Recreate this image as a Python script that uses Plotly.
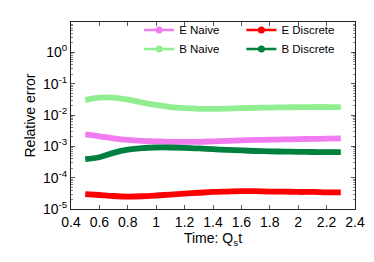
import plotly.graph_objects as go

t = [0.5, 0.6, 0.7, 0.8, 0.9, 1.0, 1.1, 1.2, 1.3, 1.4, 1.5, 1.6, 1.7, 1.8, 1.9, 2.0, 2.1, 2.2, 2.3]

e_naive = [0.0024, 0.0021, 0.0018, 0.0016, 0.0015, 0.00145, 0.0014, 0.0014, 0.0014, 0.00145,
           0.0015, 0.00155, 0.0016, 0.00163, 0.00166, 0.0017, 0.00173, 0.00176, 0.0018]
b_naive = [0.030, 0.036, 0.036, 0.031, 0.025, 0.021, 0.018, 0.0165, 0.0158, 0.0157,
           0.016, 0.0165, 0.017, 0.0173, 0.0176, 0.0178, 0.018, 0.018, 0.018]
e_discrete = [3.0e-5, 2.8e-5, 2.6e-5, 2.5e-5, 2.55e-5, 2.7e-5, 2.9e-5, 3.1e-5, 3.3e-5, 3.5e-5,
              3.6e-5, 3.7e-5, 3.7e-5, 3.6e-5, 3.6e-5, 3.5e-5, 3.5e-5, 3.4e-5, 3.4e-5]
b_discrete = [0.00039, 0.00045, 0.00062, 0.00078, 0.00088, 0.00092, 0.00092, 0.0009, 0.00086, 0.00081,
              0.00077, 0.00074, 0.00071, 0.00069, 0.00068, 0.00067, 0.00066, 0.00065, 0.00065]

names = ["E Naive", "B Naive", "E Discrete", "B Discrete"]
series = [e_naive, b_naive, e_discrete, b_discrete]
colors = ["#f07cf0", "#90ee90", "#ff0000", "#00803f"]
legend_ids = ["legend", "legend", "legend2", "legend2"]

xticks = [0.4, 0.6, 0.8, 1.0, 1.2, 1.4, 1.6, 1.8, 2.0, 2.2, 2.4]
xticklabels = ["0.4", "0.6", "0.8", "1", "1.2", "1.4", "1.6", "1.8", "2", "2.2", "2.4"]
yticks = [1e-5, 1e-4, 1e-3, 1e-2, 1e-1, 1e0]
yticklabels = ["10<sup>-5</sup>", "10<sup>-4</sup>", "10<sup>-3</sup>", "10<sup>-2</sup>",
               "10<sup>-1</sup>", "10<sup>0</sup>"]

font = "Liberation Sans, Arial, sans-serif"

fig = go.Figure()
for name, y, c, lg in zip(names, series, colors, legend_ids):
    fig.add_trace(go.Scatter(x=t, y=y, mode="lines", line=dict(color=c, width=5.8, shape="spline"),
                             showlegend=False, hoverinfo="skip"))
    fig.add_trace(go.Scatter(x=[None], y=[None], mode="lines+markers", name=name, legend=lg,
                             line=dict(color=c, width=2.5),
                             marker=dict(color=c, size=7)))

leg_common = dict(yanchor="top", xanchor="left", bgcolor="rgba(0,0,0,0)",
                  font=dict(size=11.5), traceorder="normal", itemwidth=30, tracegroupgap=0)

fig.update_layout(
    width=374, height=262,
    margin=dict(l=63, r=27, t=14, b=61, autoexpand=False),
    paper_bgcolor="white", plot_bgcolor="white",
    font=dict(family=font, size=14, color="black"),
    legend=dict(x=0.24, y=1.035, **leg_common),
    legend2=dict(x=0.6, y=1.035, **leg_common),
    xaxis=dict(range=[0.4, 2.4], tickvals=xticks, ticktext=xticklabels,
               ticks="inside", ticklen=4, tickcolor="#555", showline=True, linecolor="#222",
               linewidth=1, mirror="ticks", showgrid=False, zeroline=False,
               title=dict(text="Time: Q<sub>s</sub>t", font=dict(size=14), standoff=3)),
    yaxis=dict(type="log", range=[-5, 0.97], tickvals=yticks, ticktext=yticklabels,
               ticks="inside", ticklen=4, tickcolor="#555", showline=True, linecolor="#222",
               linewidth=1, mirror="ticks", showgrid=False, zeroline=False,
               minor=dict(ticks="inside", ticklen=2, tickcolor="#888", dtick="D1"),
               title=dict(text="Relative error", font=dict(size=14), standoff=4)),
)

fig.write_html("out.html")
